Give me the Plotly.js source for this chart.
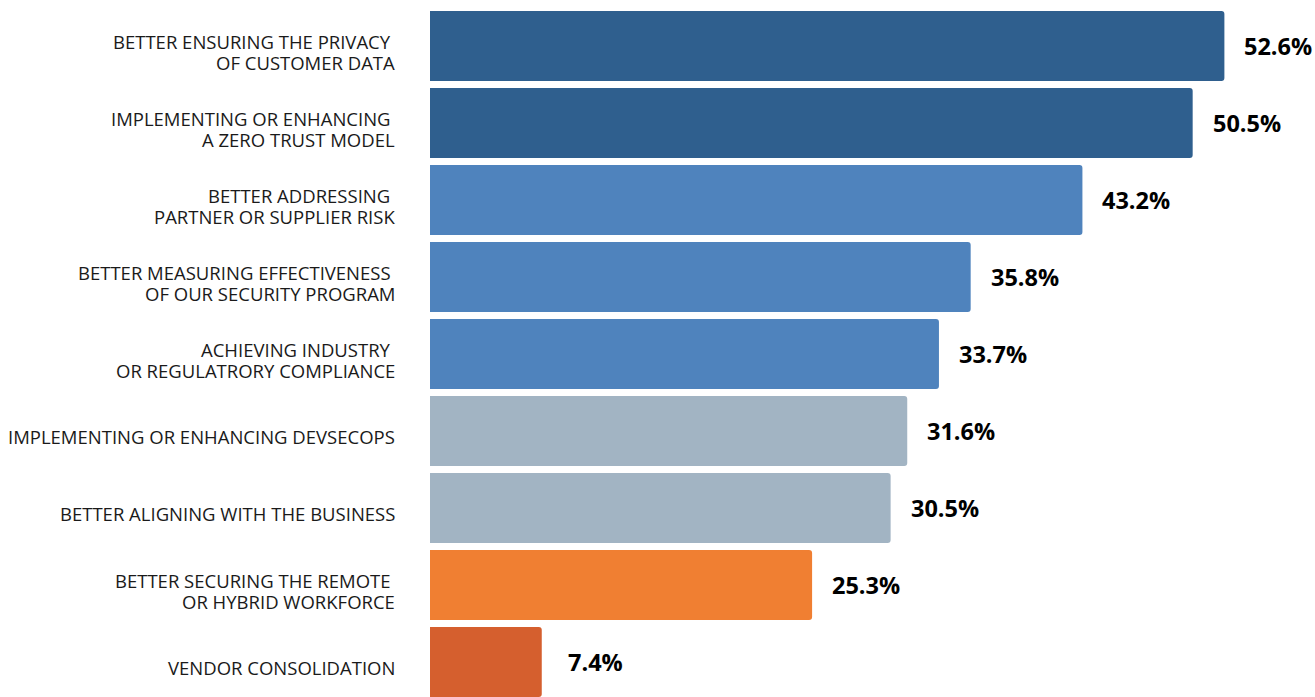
<!DOCTYPE html>
<html>
<head>
<meta charset="utf-8">
<script src="https://cdn.plot.ly/plotly-3.0.1.min.js"></script>
<style>html,body{margin:0;padding:0;background:#fff;}#chart{width:1315px;height:697px;}</style>
</head>
<body>
<div id="chart"></div>
<script>
const categories = [
  "BETTER ENSURING THE PRIVACY\u00a0<br>OF CUSTOMER DATA",
  "IMPLEMENTING OR ENHANCING\u00a0<br>A ZERO TRUST MODEL",
  "BETTER ADDRESSING\u00a0<br>PARTNER OR SUPPLIER RISK",
  "BETTER MEASURING EFFECTIVENESS\u00a0<br>OF OUR SECURITY PROGRAM",
  "ACHIEVING INDUSTRY\u00a0<br>OR REGULATRORY COMPLIANCE",
  "IMPLEMENTING OR ENHANCING DEVSECOPS",
  "BETTER ALIGNING WITH THE BUSINESS",
  "BETTER SECURING THE REMOTE\u00a0<br>OR HYBRID WORKFORCE",
  "VENDOR CONSOLIDATION"
];
const values = [52.6, 50.5, 43.2, 35.8, 33.7, 31.6, 30.5, 25.3, 7.4];
const valueLabels = ["52.6%", "50.5%", "43.2%", "35.8%", "33.7%", "31.6%", "30.5%", "25.3%", "7.4%"];
const barColors = ["#2F5F8E", "#2F5F8E", "#4F83BD", "#4F83BD", "#4F83BD", "#A2B4C3", "#A2B4C3", "#F07F32", "#D55F2E"];

const trace = {
  type: "bar",
  orientation: "h",
  x: values,
  y: categories,
  marker: { color: barColors, cornerradius: 3, line: { width: 0 } },
  width: 0.91,
  hoverinfo: "skip"
};

const annotations = values.map((v, i) => ({
  x: v, y: categories[i], xref: "x", yref: "y",
  text: valueLabels[i], showarrow: false,
  xanchor: "center", yanchor: "middle", xshift: 54, yshift: 0,
  font: { family: "Open Sans", size: 23.5, color: "#000", weight: 700 }
}));

const lineGap = 21.5;
categories.forEach((c, i) => {
  const lines = c.split("<br>");
  lines.forEach((ln, j) => {
    annotations.push({
      x: 0, y: c, xref: "paper", yref: "y",
      text: ln, showarrow: false,
      xanchor: "right", yanchor: "middle",
      xshift: -34, yshift: ((lines.length - 1) / 2 - j) * lineGap - 6,
      borderpad: 0,
      font: { family: "Open Sans", size: 18.5, color: "#1a1a1a" }
    });
  });
});

const layout = {
  width: 1315, height: 697,
  margin: { l: 430, r: 0, t: 0, b: 0, pad: 0 },
  paper_bgcolor: "#fff", plot_bgcolor: "#fff",
  showlegend: false,
  xaxis: { range: [0, 58.6], visible: false, fixedrange: true },
  yaxis: {
    type: "category",
    range: [8.455, -0.597],
    showgrid: false, zeroline: false, showline: false,
    ticks: "", showticklabels: false,
    fixedrange: true
  },
  annotations: annotations,
  font: { family: "Open Sans" }
};

Plotly.newPlot("chart", [trace], layout, { displayModeBar: false, staticPlot: true });
</script>
</body>
</html>
